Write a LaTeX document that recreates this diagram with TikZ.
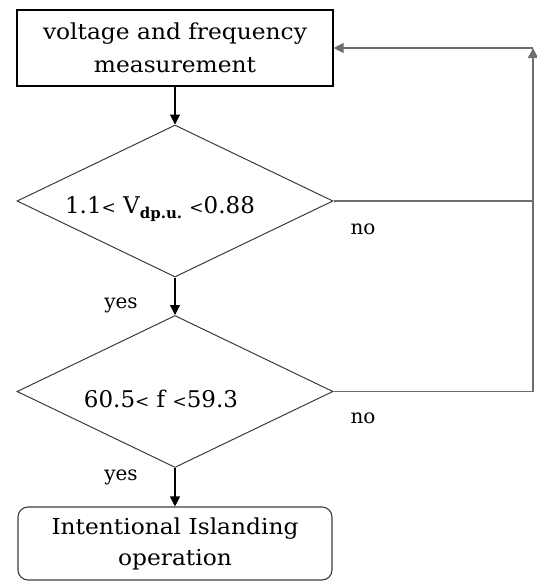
\documentclass[tikz,border=0pt]{standalone}
\usepackage{fontspec}
\setmainfont{DejaVu Serif}
\newfontfamily\widefont[FakeStretch=1.06]{DejaVu Serif}
\usetikzlibrary{shapes.geometric,arrows.meta,calc}
\definecolor{lineDark}{RGB}{60,60,60}
\definecolor{lineGray}{RGB}{110,110,110}
\tikzset{
  boxnode/.style={draw=black,line width=1.1pt,minimum width=316pt,minimum height=76pt,inner sep=0pt,align=center,font=\widefont\fontsize{22}{33}\selectfont},
  endnode/.style={draw=lineDark,line width=1.1pt,rounded corners=10pt,minimum width=314pt,minimum height=73pt,inner sep=0pt,align=center,font=\widefont\fontsize{22}{31}\selectfont},
  decision/.style={draw=lineDark,line width=1pt,diamond,aspect=2.08,minimum width=316pt,minimum height=152pt,inner sep=0pt},
  dtext/.style={inner sep=0pt,font=\fontsize{23}{23}\selectfont},
  lbl/.style={inner sep=0pt,font=\fontsize{20}{20}\selectfont},
  flow/.style={draw=black,line width=1.1pt,-{Triangle[length=10pt,width=10pt]}},
  back/.style={draw=lineGray,line width=1.4pt},
  backarrow/.style={back,-{Triangle[length=10pt,width=10pt]}}
}
\begin{document}
\begin{tikzpicture}[x=1pt,y=-1pt]
\useasboundingbox (0,0) rectangle (537,582);
\node[boxnode] (meas) at (175,48) {voltage and frequency\\measurement};
\node[decision] (d1) at (175,201) {};
\node[decision] (d2) at (175,391.5) {};
\node[endnode] (isl) at (175,543.5) {Intentional Islanding\\operation};
\node[dtext] (t1) at (160,209) {1.1{\fontsize{17}{17}\selectfont<} V\raisebox{-5pt}{\fontsize{15}{15}\selectfont\bfseries dp.u.} {\fontsize{17}{17}\selectfont<}0.88};
\node[dtext] (t2) at (161,399) {60.5{\fontsize{17}{17}\selectfont<} f {\fontsize{17}{17}\selectfont<}59.3};
\node[lbl] (y1) at (121,305) {yes};
\node[lbl] (y2) at (121,477) {yes};
\node[lbl] (n1) at (363,229) {no};
\node[lbl] (n2) at (363,418) {no};
\coordinate (r1) at (533,201);
\coordinate (r2) at (533,391.5);
\coordinate (rtop) at (533,48);
\draw[flow] (meas.south) -- (d1.north);
\draw[flow] (d1.south) -- (d2.north);
\draw[flow] (d2.south) -- (isl.north);
\draw[back] (d1.east) -- (r1);
\draw[back] (d2.east) -- (r2);
\draw[backarrow] (r2) -- (rtop);
\draw[backarrow] (rtop) -- (meas.east);
\end{tikzpicture}
\end{document}
